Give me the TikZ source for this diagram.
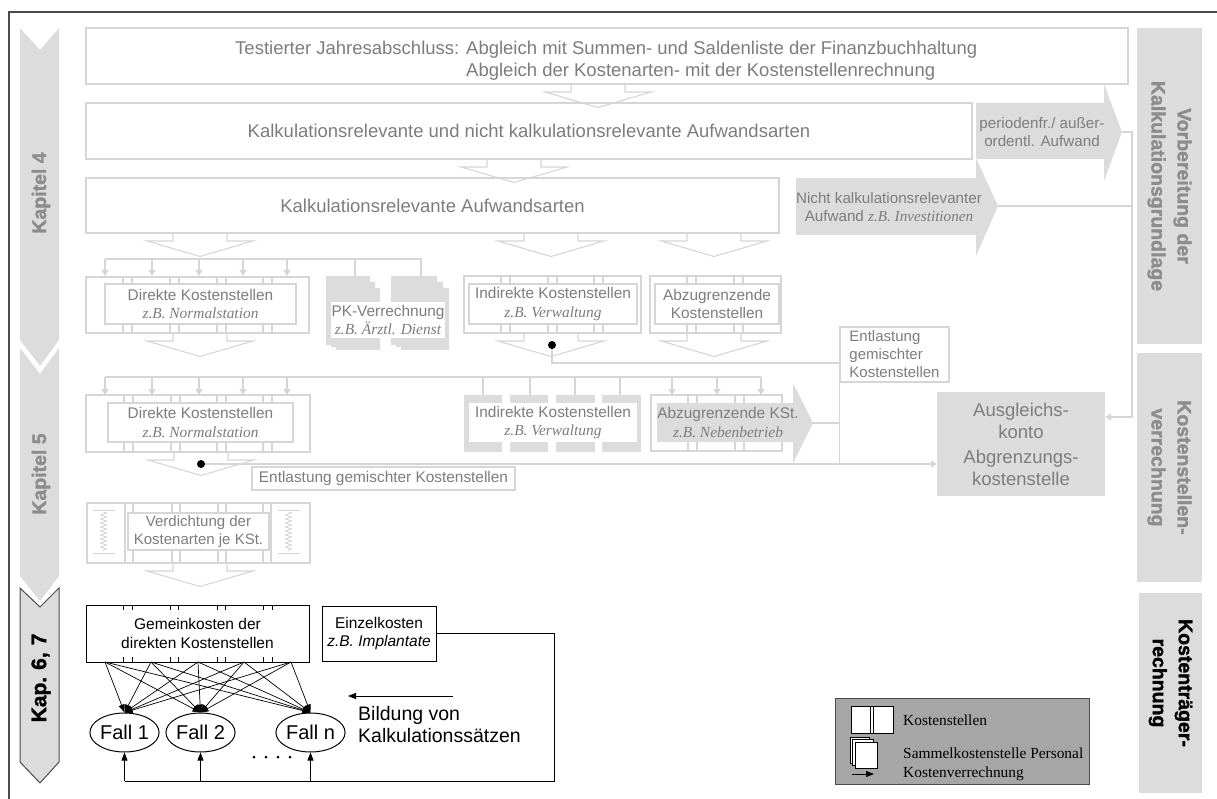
\documentclass[tikz,border=0pt]{standalone}
\usepackage{fontspec}
\setmainfont{Liberation Sans}
\newfontfamily\timesfam{Liberation Serif}
\newfontfamily\heavyfam[FakeBold=1.6]{Liberation Sans Bold}
\usetikzlibrary{arrows.meta,shapes.geometric,decorations.pathmorphing}

\definecolor{lfill}{RGB}{221,220,221}
\definecolor{lline}{RGB}{214,214,214}
\definecolor{gtext}{RGB}{125,125,125}
\definecolor{ltitle}{RGB}{140,140,140}
\definecolor{legfill}{RGB}{166,166,166}
\definecolor{framec}{RGB}{75,75,75}

\newcommand\fsBig{\fontsize{18.5}{22.5}\selectfont}
\newcommand\fsMid{\fontsize{15.4}{18.5}\selectfont}
\newcommand\fsLab{\fontsize{19.5}{23}\selectfont}
\newcommand\zb[1]{{\timesfam\itshape #1}}

% open block arrow below a box: centre x, top y
\newcommand\openarrow[2]{%
  \draw[lt] (#1-27,#2) -- (#1-27,#2+8) -- (#1-53,#2+8) -- (#1,#2+23.5)
            -- (#1+53,#2+8) -- (#1+27,#2+8) -- (#1+27,#2);}

\begin{document}
\begin{tikzpicture}[x=1pt,y=-1pt,
  lt/.style={draw=lline,line width=1.1pt},
  wbox/.style={draw=lline,line width=1.1pt,fill=white,inner sep=0pt,text=gtext,align=center},
  kout/.style={draw=lline,line width=1.1pt,inner sep=0pt},
  garr/.style={draw=lline,line width=1.1pt,-{Triangle[length=6pt,width=7pt]}},
  blk/.style={draw=black,line width=0.8pt},
  blkarr/.style={draw=black,line width=0.7pt,-{Triangle[length=8pt,width=6pt]}},
  sidebox/.style={fill=lfill,inner sep=0pt},
  sidetxt/.style={rotate=-90,align=center,font=\heavyfam\fontsize{19.5}{26}\selectfont},
  chaptxt/.style={rotate=90,font=\heavyfam\fsLab},
  gtxt/.style={text=gtext,align=center,inner sep=0pt}]
\useasboundingbox (0,0) rectangle (1217,799);

% page frame
\draw[framec,line width=1.4pt] (1217,12) -- (9,12) -- (9,799);

% chapter bands on the left
\fill[lfill] (20,28) -- (40,50) -- (59,28) -- (59,340) -- (40,366) -- (20,340) -- cycle;
\fill[lfill] (20,348) -- (40,374) -- (59,348) -- (59,576) -- (40,601) -- (20,576) -- cycle;
\filldraw[fill=lfill,draw=framec,line width=1pt] (20,588) -- (40,607) -- (59,588) -- (59,762) -- (40,783) -- (20,762) -- cycle;
\node[chaptxt,text=ltitle] (kap4) at (41,193) {Kapitel 4};
\node[chaptxt,text=ltitle] (kap5) at (41,474) {Kapitel 5};
\node[chaptxt,text=black,font=\heavyfam\fontsize{21}{24}\selectfont] (kap67) at (41,678) {Kap.\,\,6,\,\,7};

% phase labels on the right
\node[sidebox,minimum width=65,minimum height=316] (vkg) at (1169.5,186) {};
\node[sidetxt,text=ltitle] (vkgt) at (vkg.center) {Vorbereitung der\\Kalkulationsgrundlage};
\node[sidebox,minimum width=65,minimum height=229] (ksv) at (1169.5,467.5) {};
\node[sidetxt,text=ltitle] (ksvt) at (ksv.center) {Kostenstellen-\\verrechnung};
\node[sidebox,minimum width=63,minimum height=200] (ktr) at (1170.5,693) {};
\node[sidetxt,text=black] (ktrt) at (1170.5,683) {Kostenträger-\\rechnung};

% grey block arrows for excluded expenses
\fill[lfill] (976,103) -- (1104,103) -- (1104,84) -- (1122,132) -- (1104,181) -- (1104,159) -- (976,159) -- cycle;
\fill[lfill] (796,178) -- (976,178) -- (976,158) -- (998,206) -- (976,256) -- (976,235) -- (796,235) -- cycle;
\node[gtxt,font=\fontsize{15.2}{18}\selectfont] (pau) at (1042,132) {periodenfr./ außer-\\ordentl. Aufwand};
\node[gtxt,font=\fontsize{15.2}{18}\selectfont] (nka) at (889,207) {Nicht kalkulationsrelevanter\\Aufwand \zb{z.B. Investitionen}};
\coordinate (p1tip) at (1122,132);
\coordinate (p2tip) at (998,206);
\coordinate (rj) at (1132,417);

% top rows
\node[wbox,minimum width=1042,minimum height=56] (jab) at (607,56) {};
\node[gtxt,anchor=west,align=left,font=\fsBig] (jabt) at (235,60.5)
  {Testierter Jahresabschluss: Abgleich mit Summen- und Saldenliste der Finanzbuchhaltung\\
   \hphantom{Testierter Jahresabschluss: }Abgleich der Kostenarten- mit der Kostenstellenrechnung};
\node[wbox,minimum width=886,minimum height=56,font=\fsBig] (kna) at (529,131)
  {Kalkulationsrelevante und nicht kalkulationsrelevante Aufwandsarten};
\node[wbox,minimum width=693,minimum height=55,font=\fsBig] (kra) at (432.5,205.5)
  {Kalkulationsrelevante Aufwandsarten};
\openarrow{598}{84}
\openarrow{514}{159}
\openarrow{200}{233}
\openarrow{551}{233}
\openarrow{714}{233}

% row 4: cost centres before allocation
\draw[lt] (105,259) -- (421,259) -- (421,276);
\draw[lt] (355,259) -- (355,276);
\foreach \x in {105,152,199,243,287} \draw[garr] (\x,259) -- (\x,276);

\node[kout,minimum width=223,minimum height=56] (dko4) at (197.5,305) {};
\foreach \d in {123,170,217,263} \draw[lt] (\d,277) -- (\d,333) (\d+9,277) -- (\d+9,333);
\node[wbox,minimum width=191,minimum height=40,font=\fsMid] (dk4) at (200.5,304)
  {Direkte Kostenstellen\\\zb{z.B. Normalstation}};

\fill[lfill] (326,276) rectangle (370,345) (331,282) rectangle (375,347) (336,288) rectangle (380,350);
\fill[lfill] (391,276) rectangle (437,345) (396,282) rectangle (443,347) (401,288) rectangle (449,350);
\node[fill=white,inner sep=0pt,minimum width=114,minimum height=36,text=gtext,align=center,font=\fsMid] (pkv) at (388,320)
  {PK-Verrechnung\\\zb{z.B. Ärztl. Dienst}};

\node[kout,minimum width=177,minimum height=57] (iko4) at (552.5,304.5) {};
\foreach \d in {501,548,594} \draw[lt] (\d,276) -- (\d,333) (\d+9,276) -- (\d+9,333);
\node[wbox,minimum width=168,minimum height=40,font=\fsMid] (ik4) at (553,304)
  {Indirekte Kostenstellen\\\zb{z.B. Verwaltung}};

\node[kout,minimum width=131,minimum height=57] (ako4) at (715.5,304.5) {};
\foreach \d in {687,734} \draw[lt] (\d,276) -- (\d,333) (\d+9,276) -- (\d+9,333);
\node[wbox,minimum width=124,minimum height=40,font=\fsMid] (ak4) at (717,304)
  {Abzugrenzende\\Kostenstellen};

\openarrow{200}{333}
\openarrow{551}{333}
\openarrow{714}{333}

% relief of mixed cost centres
\node[wbox,minimum width=109,minimum height=55,align=left,font=\fontsize{15}{18}\selectfont] (ent2) at (894.5,354.5)
  {Entlastung\\gemischter\\Kostenstellen};
\coordinate (dot4) at (552,345);
\draw[lt] (dot4) -- (552,363) -- (ent2.west |- 552,363);
\fill[black] (dot4) circle (4);

% row 5: cost centres after allocation
\draw[lt] (105,377) -- (761,377);
\foreach \x in {105,152,199,243,287} \draw[garr] (\x,377) -- (\x,395);
\foreach \x in {483,530,575,620} \draw[lt] (\x,377) -- (\x,395);
\foreach \x in {672,717,761} \draw[garr] (\x,377) -- (\x,395);

\node[kout,minimum width=224,minimum height=57] (dko5) at (198,423.5) {};
\foreach \d in {124,171,217,263} \draw[lt] (\d,395) -- (\d,452) (\d+9,395) -- (\d+9,452);
\node[wbox,minimum width=185,minimum height=39,font=\fsMid] (dk5) at (200.5,422.5)
  {Direkte Kostenstellen\\\zb{z.B. Normalstation}};

\node[fill=lfill,inner sep=0pt,minimum width=177,minimum height=57] (iko5) at (552.5,423.5) {};
\fill[white] (502,395) rectangle (510,452) (548,395) rectangle (556,452) (595,395) rectangle (602,452);
\node[fill=white,inner sep=0pt,minimum width=168,minimum height=39,text=gtext,align=center,font=\fsMid] (ik5) at (553,422.5)
  {Indirekte Kostenstellen\\\zb{z.B. Verwaltung}};

\node[kout,minimum width=131,minimum height=56] (ako5) at (716.5,423) {};
\foreach \d in {688,735} \draw[lt] (\d,395) -- (\d,451) (\d+9,395) -- (\d+9,451);
\fill[lfill] (657,403) -- (793,403) -- (793,383) -- (813,423) -- (793,463) -- (793,442) -- (657,442) -- cycle;
\node[gtxt,font=\fsMid] (ak5) at (728,422.5) {Abzugrenzende KSt.\\\zb{z.B. Nebenbetrieb}};
\coordinate (a5tip) at (813,423);

\openarrow{201}{452}
\node[wbox,minimum width=263,minimum height=23,font=\fsMid] (ent1) at (383.5,478.5)
  {Entlastung gemischter Kostenstellen};

% balancing account
\node[fill=lfill,inner sep=0pt,minimum width=168,minimum height=104,text=gtext,align=center,
  font=\fontsize{18.5}{22}\selectfont] (aus) at (1021,444)
  {Ausgleichs-\\konto\\[3pt]Abgrenzungs-\\kostenstelle};

\draw[lt] (a5tip) -- (ent2.south west |- a5tip);
\draw[lt] (ent2.south west) -- (ent2.south west |- 0,464);
\coordinate (dot5) at (201,464);
\draw[garr] (dot5) -- (aus.west |- dot5);
\fill[black] (dot5) circle (4);

\draw[garr] (p1tip) -| (rj) -- (aus.east |- rj);
\draw[lt] (p2tip) -- (p2tip -| rj);

% row 6: aggregation of cost types
\node[kout,minimum width=223,minimum height=60] (vko) at (198.5,533) {};
\foreach \d in {125,172,218,263} \draw[lt] (\d,503) -- (\d,563) (\d+8,503) -- (\d+8,563);
\foreach \c in {103.5,288.5} {
  \draw[lt,line width=0.8pt] (\c-11,510) -- (\c+11,510) (\c-11,553) -- (\c+11,553);
  \draw[lt,line width=0.8pt,decorate,decoration={zigzag,segment length=4pt,amplitude=3pt}] (\c,512) -- (\c,551);
}
\node[wbox,minimum width=141,minimum height=37,font=\fontsize{15}{18}\selectfont] (vdk) at (198.5,531.5)
  {Verdichtung der\\Kostenarten je KSt.};
\openarrow{200}{563}

% cost unit accounting
\node[draw=black,line width=1pt,inner sep=0pt,minimum width=223,minimum height=57,align=center,
  font=\fontsize{15.5}{18.5}\selectfont] (gmk) at (197.5,633.5)
  {Gemeinkosten der\\direkten Kostenstellen};
\foreach \d in {123,132,170,178,217,225,263,272} \draw[blk] (\d,605) -- (\d,610) (\d,657) -- (\d,662);
\node[draw=black,line width=1pt,inner sep=0pt,minimum width=114,minimum height=55,align=center,
  font=\fontsize{15.5}{18.5}\selectfont] (ezk) at (379,633.5)
  {Einzelkosten\\\textit{z.B. Implantate}};

\node[draw=black,line width=1pt,ellipse,inner sep=0pt,minimum width=67,minimum height=39,font=\fontsize{20}{24}\selectfont] (f1) at (124.5,732.5) {Fall 1};
\node[draw=black,line width=1pt,ellipse,inner sep=0pt,minimum width=65,minimum height=39,font=\fontsize{20}{24}\selectfont] (f2) at (200.5,732.5) {Fall 2};
\node[draw=black,line width=1pt,ellipse,inner sep=0pt,minimum width=65,minimum height=39,font=\fontsize{20}{24}\selectfont] (fn) at (310.5,732.5) {Fall n};
\foreach \x in {254,266,278,290} \fill[black] (\x,757) circle (1.5);

\foreach \s in {105,151,198,244,291}
  \foreach \t in {f1,f2,fn}
    \draw[blkarr] (\s,662) -- (\t.north);

\coordinate (bj) at (554,781);
\draw[blk] (ezk.east) -| (bj) -- (f1.south |- bj);
\foreach \t in {f1,f2,fn} \draw[blkarr] (\t.south |- bj) -- (\t.south);

\coordinate (bs) at (453,696);
\coordinate (be) at (348,696);
\draw[blkarr,line width=1pt] (bs) -- (be);
\node[anchor=west,align=left,inner sep=0pt,font=\fontsize{19.5}{22}\selectfont] (bld) at (358,725)
  {Bildung von\\Kalkulationssätzen};

% legend
\node[draw=framec,line width=1pt,fill=legfill,inner sep=0pt,minimum width=254,minimum height=86] (leg) at (962,741) {};
\filldraw[fill=white,draw=black,line width=0.8pt] (851,706) rectangle (893,733);
\draw[black,line width=0.8pt] (870,706) -- (870,733) (873,706) -- (873,733);
\filldraw[fill=white,draw=black,line width=0.7pt] (850,737) rectangle (869,763);
\filldraw[fill=white,draw=black,line width=0.7pt] (852.5,739.5) rectangle (873,765.5);
\filldraw[fill=white,draw=black,line width=0.7pt] (855,742) rectangle (877,768);
\coordinate (ls) at (852,774);
\coordinate (le) at (874,774);
\draw[blkarr] (ls) -- (le);
\node[anchor=west,inner sep=0pt,font=\timesfam\fontsize{15.4}{18}\selectfont] (lg1) at (903,720) {Kostenstellen};
\node[anchor=west,inner sep=0pt,font=\timesfam\fontsize{15.4}{18}\selectfont] (lg2) at (903,753) {Sammelkostenstelle Personal};
\node[anchor=west,inner sep=0pt,font=\timesfam\fontsize{15.4}{18}\selectfont] (lg3) at (903,774) {Kostenverrechnung};
\end{tikzpicture}
\end{document}
